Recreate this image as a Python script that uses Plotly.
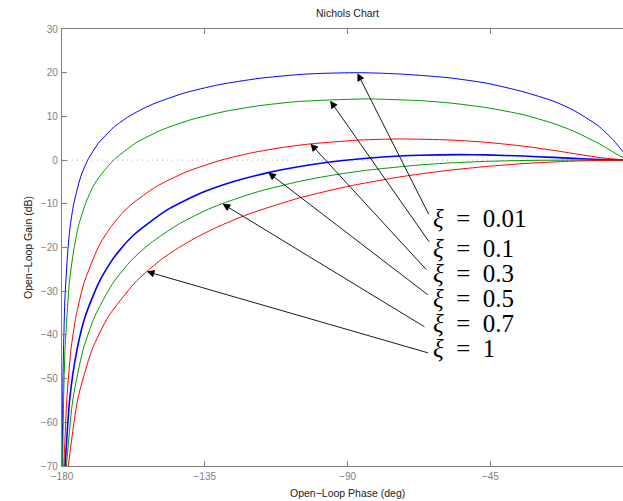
import plotly.graph_objects as go

# ---- data (phase in deg, gain in dB) ----
zeta_labels = ["0.01", "0.1", "0.3", "0.5", "0.7", "1"]
colors = ["#0000ff", "#009a00", "#ff0000", "#0000ff", "#009a00", "#ff0000"]
widths = [1.0, 1.0, 1.0, 1.6, 1.0, 1.0]

phase_001 = [-179.9, -179.7, -179.1, -178.2, -177.4, -176.3, -174.1, -171.9, -168.6, -163.9, -158.9, -154.4,
             -150.7, -141.7, -130.9, -117.9, -105.0, -98.0, -87.1, -80.0, -73.5, -67.2, -57.7, -46.2, -34.7,
             -25.2, -19.0, -11.1, -6.4, -3.2, -1.6, 0.0]
gain_001 = [-70, -50, -32, -21, -15, -10, -3.8, 0.0, 3.8, 7.4, 10.0, 11.8,
            13.0, 15.3, 17.2, 18.7, 19.6, 19.85, 20.0, 19.9, 19.7, 19.4, 18.8, 17.6, 15.65,
            13.5, 11.5, 7.9, 4.7, 1.9, 0.5, 0.0]

phase_01 = [-179.8, -179.5, -179.06, -177.7, -176.3, -174.8, -172.6, -170.2, -167.8, -163.7, -157.0, -148.6,
            -139.6, -128.9, -118.3, -105.7, -84.2, -67.2, -57.7, -46.2, -34.7, -25.2, -19.0, -11.1, -6.4,
            -3.2, 0.0]
gain_01 = [-70, -55, -43.5, -28.2, -20.6, -15.0, -10.0, -6.0, -3.4, 0.0, 3.8, 6.9,
           9.2, 11.1, 12.4, 13.4, 14.0, 13.6, 13.07, 12.0, 10.4, 8.4, 6.7, 3.9, 1.9,
           0.6, 0.0]

phase_03 = [-179.4, -178.5, -177.2, -175.6, -173.1, -169.0, -167.5, -164.5, -161.1, -157.9, -150.4, -140.7,
            -129.8, -120.0, -110.0, -101.8, -86.1, -73.5, -57.7, -46.2, -34.7, -25.2, -19.0, -10.0, -3.2, 0.0]
gain_03 = [-70, -54.9, -43.5, -35.8, -28.2, -20.6, -18.5, -15.2, -12.2, -10.0, -6.1, -2.65,
           0.0, 1.7, 2.95, 3.7, 4.6, 4.84, 4.6, 4.07, 3.2, 2.24, 1.53, 0.53, 0.07, 0.0]

phase_05 = [-179.0, -177.6, -175.3, -172.7, -168.5, -164.2, -161.8, -157.5, -146.9, -136.4, -125.9, -115.0,
            -105.0, -95.5, -78.7, -67.2, -54.7, -46.2, -34.7, -25.2, -19.0, -10.0, -3.2, 0.0]
gain_05 = [-70, -54.9, -43.5, -35.8, -28.2, -22.9, -20.6, -17.2, -11.4, -7.6, -4.9, -2.86,
           -1.46, -0.45, 0.7, 1.1, 1.25, 1.19, 0.93, 0.62, 0.4, 0.13, 0.01, 0.0]

phase_07 = [-178.6, -176.6, -173.4, -169.7, -164.0, -158.1, -154.7, -152.1, -143.7, -135.0, -129.3, -118.1,
            -105.0, -95.0, -84.0, -67.2, -57.7, -46.2, -34.7, -19.0, 0.0]
gain_07 = [-70, -54.9, -43.5, -35.8, -28.2, -22.9, -20.6, -19.0, -14.85, -11.6, -9.9, -7.2,
           -4.84, -3.48, -2.33, -1.11, -0.65, -0.29, -0.09, 0.0, 0.0]

phase_1 = [-178.0, -175.1, -170.6, -165.4, -157.2, -153.3, -149.0, -143.8, -137.9, -131.0, -121.4, -105.0,
           -89.2, -73.5, -67.2, -57.7, -46.2, -34.7, -25.2, -19.0, -10.0, 0.0]
gain_1 = [-70, -54.9, -43.5, -35.8, -28.2, -25.5, -22.9, -20.3, -17.8, -15.3, -12.4, -8.62,
          -5.9, -3.85, -3.18, -2.3, -1.45, -0.81, -0.42, -0.24, -0.07, 0.0]

phases = [phase_001, phase_01, phase_03, phase_05, phase_07, phase_1]
gains = [gain_001, gain_01, gain_03, gain_05, gain_07, gain_1]

# arrow heads (on curves) and tails (near labels), data coords
arrow_head_x = [-86.9, -95.5, -101.7, -115.0, -129.4, -153.3]
arrow_head_y = [19.9, 13.6, 3.75, -2.85, -10.0, -25.5]
arrow_tail_x = [-64.2, -64.0, -64.75, -64.2, -65.3, -64.2]
arrow_tail_y = [-12.7, -19.0, -25.4, -31.1, -38.35, -44.2]
label_x = -63.6
label_y = [-13.3, -20.2, -25.9, -31.6, -37.3, -43.1]

x_ticks = [-180, -135, -90, -45]
y_ticks = [-70, -60, -50, -40, -30, -20, -10, 0, 10, 20, 30]

fig = go.Figure()
for ph, g, c, w in zip(phases, gains, colors, widths):
    fig.add_trace(go.Scatter(x=ph, y=g, mode="lines",
                             line=dict(color=c, width=w, shape="spline", smoothing=0.6),
                             showlegend=False, hoverinfo="skip"))

# dotted 0 dB line
fig.add_shape(type="line", xref="paper", x0=0, x1=1, yref="y", y0=0, y1=0,
              line=dict(color="#b0b0b0", width=1, dash="1px,4px"), layer="below")

for hx, hy, tx, ty in zip(arrow_head_x, arrow_head_y, arrow_tail_x, arrow_tail_y):
    fig.add_annotation(x=hx, y=hy, ax=tx, ay=ty, xref="x", yref="y", axref="x", ayref="y",
                       text="", showarrow=True, arrowhead=2, arrowsize=1.7, arrowwidth=0.9,
                       arrowcolor="black", standoff=0, startstandoff=0)

for lab, ly in zip(zeta_labels, label_y):
    fig.add_annotation(x=label_x, y=ly, xref="x", yref="y", xanchor="left", yanchor="middle",
                       text="<i>ξ</i>\u00a0\u00a0=\u00a0\u00a0" + lab, showarrow=False,
                       font=dict(family="Liberation Serif", size=25, color="black"))

W, H = 623, 501
L, R, T, B = 62, 0, 29, 35
pw, ph_ = W - L - R, H - T - B

def px2paper_x(px):
    return (px - L) / pw

def py2paper_y(py):
    return (H - B - py) / ph_

txt_font = dict(family="Liberation Sans", size=10.5, color="#222222")
fig.add_annotation(x=px2paper_x(347), y=py2paper_y(13.5), xref="paper", yref="paper",
                   text="Nichols Chart", showarrow=False, font=txt_font,
                   xanchor="center", yanchor="middle")
fig.add_annotation(x=px2paper_x(347), y=py2paper_y(492.5), xref="paper", yref="paper",
                   text="Open\u2212Loop Phase (deg)", showarrow=False, font=txt_font,
                   xanchor="center", yanchor="middle")
fig.add_annotation(x=px2paper_x(28), y=py2paper_y(248), xref="paper", yref="paper",
                   text="Open\u2212Loop Gain (dB)", showarrow=False, font=txt_font,
                   textangle=-90, xanchor="center", yanchor="middle")

axis_gray = "#7f7f7f"
tick_font = dict(family="Liberation Sans", size=10, color="#808080")
fig.update_xaxes(range=[-180, -180 + pw / 3.173], tickmode="array", tickvals=x_ticks,
                 ticktext=["\u2212" + str(abs(v)) for v in x_ticks],
                 showgrid=False, zeroline=False, showline=True, linecolor=axis_gray, linewidth=1.4,
                 mirror="ticks", ticks="inside", ticklen=5, tickcolor=axis_gray, tickwidth=1,
                 tickfont=tick_font, ticklabelstandoff=1)
fig.update_yaxes(range=[-70, 30], tickmode="array", tickvals=y_ticks,
                 ticktext=[("\u2212" + str(abs(v))) if v < 0 else str(v) for v in y_ticks],
                 showgrid=False, zeroline=False, showline=True, linecolor=axis_gray, linewidth=1.4,
                 mirror=False, ticks="inside", ticklen=5, tickcolor=axis_gray, tickwidth=1,
                 tickfont=tick_font, ticklabelstandoff=1)

fig.update_layout(width=W, height=H, margin=dict(l=L, r=R, t=T, b=B, pad=0),
                  plot_bgcolor="white", paper_bgcolor="white", showlegend=False)

fig.write_html("out.html", config={"displayModeBar": False},
               post_script="document.body.style.margin='0px';document.body.style.overflow='hidden';")
